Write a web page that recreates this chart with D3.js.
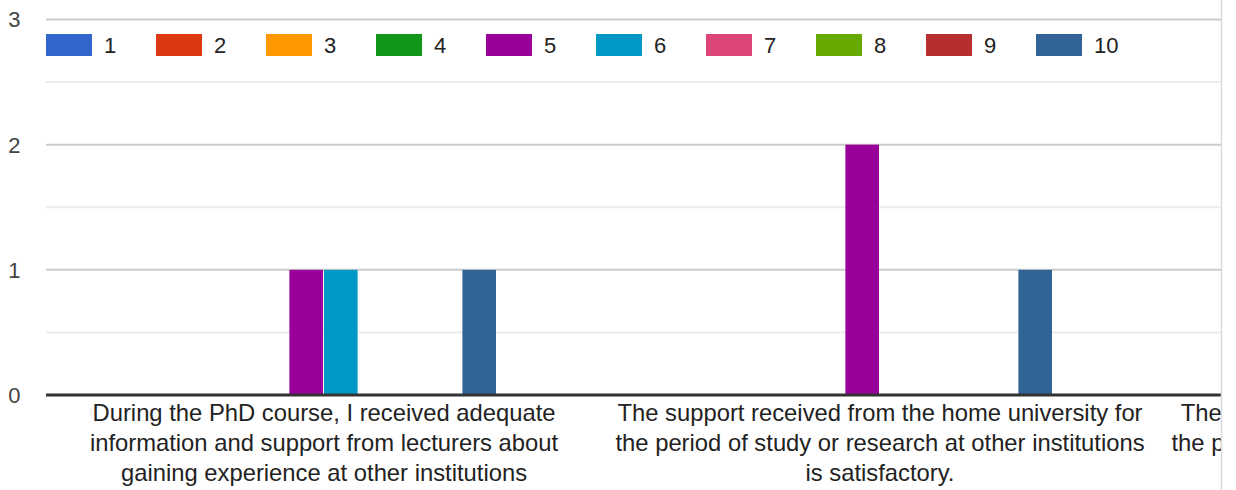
<!DOCTYPE html>
<html><head><meta charset="utf-8">
<script src="https://cdn.jsdelivr.net/npm/d3@7"></script>
<style>
html,body{margin:0;padding:0;background:#fff;}
svg{display:block;font-family:"Liberation Sans",Arial,sans-serif;}
</style></head>
<body><svg id="c" width="1236" height="490"></svg>
<script>
const categories = [
  "During the PhD course, I received adequate\ninformation and support from lecturers about\ngaining experience at other institutions",
  "The support received from the home university for\nthe period of study or research at other institutions\nis satisfactory.",
  "The support received from the host university for\nthe period of study or research at other institutions\nis satisfactory."
];
const seriesNames = ["1","2","3","4","5","6","7","8","9","10"];
const seriesColors = ["#3366cc","#dc3912","#ff9900","#109618","#990099","#0099c6","#dd4477","#66aa00","#b82e2e","#316395"];
// values[category][series]
const values = [
  [0,0,0,0,1,1,0,0,0,1],
  [0,0,0,0,2,0,0,0,0,1],
  [0,0,0,0,0,0,0,0,0,0]
];
const yTicks = [0,1,2,3];
const yMinor = [0.5,1.5,2.5];

const svg = d3.select("#c");
const left = 46, bandW = 556, clipRight = 1221;
const x0 = d3.scaleBand().domain(d3.range(categories.length)).range([left, left + bandW*categories.length]).paddingInner(0).paddingOuter(0);
const innerW = 346;
const x1 = d3.scaleBand().domain(d3.range(seriesNames.length)).range([0, innerW]);
const y = d3.scaleLinear().domain([0,3]).range([395, 19.5]);

svg.append("defs").append("clipPath").attr("id","clip")
  .append("rect").attr("x",0).attr("y",0).attr("width",clipRight).attr("height",490);

const g = svg.append("g").attr("clip-path","url(#clip)");

// minor gridlines
g.selectAll("line.minor").data(yMinor).join("line")
  .attr("x1",left).attr("x2",clipRight).attr("y1",d=>y(d)).attr("y2",d=>y(d))
  .attr("stroke","#ebebeb").attr("stroke-width",2);
// major gridlines
g.selectAll("line.major").data(yTicks.filter(d=>d>0)).join("line")
  .attr("x1",left).attr("x2",clipRight).attr("y1",d=>y(d)).attr("y2",d=>y(d))
  .attr("stroke","#cccccc").attr("stroke-width",2);

// y labels
svg.selectAll("text.yl").data(yTicks).join("text")
  .attr("x",20.5).attr("y",d=>y(d)).attr("dy","0.36em")
  .attr("text-anchor","end").attr("font-size",22).attr("fill","#444")
  .text(d=>d);

// bars
const groups = g.selectAll("g.cat").data(values).join("g")
  .attr("transform",(d,i)=>`translate(${x0(i) + (bandW-innerW)/2},0)`);
groups.selectAll("rect").data(d=>d.map((v,j)=>({v,j}))).join("rect")
  .attr("x",d=>x1(d.j)).attr("width",x1.bandwidth()-1)
  .attr("y",d=>y(d.v)).attr("height",d=>y(0)-y(d.v))
  .attr("fill",d=>seriesColors[d.j]);

// baseline
g.append("line").attr("x1",left).attr("x2",clipRight).attr("y1",y(0)).attr("y2",y(0))
  .attr("stroke","#333").attr("stroke-width",3);

// category labels
const labs = g.selectAll("text.cat").data(categories).join("text")
  .attr("text-anchor","middle").attr("font-size",23.8).attr("fill","#222")
  .attr("transform",(d,i)=>`translate(${x0(i)+bandW/2},421)`);
labs.selectAll("tspan").data(d=>d.split("\n")).join("tspan")
  .attr("x",0).attr("y",(d,i)=>i*30).text(d=>d);

// legend
const leg = svg.append("g").selectAll("g").data(seriesNames).join("g")
  .attr("transform",(d,i)=>`translate(${46+i*110},34)`);
leg.append("rect").attr("width",46).attr("height",22).attr("fill",(d,i)=>seriesColors[i]);
leg.append("text").attr("x",58).attr("y",11).attr("dy","0.36em")
  .attr("font-size",22).attr("fill","#222").text(d=>d);

// right border
svg.append("line").attr("x1",clipRight+0.5).attr("x2",clipRight+0.5).attr("y1",0).attr("y2",490)
  .attr("stroke","#dadada").attr("stroke-width",1.5);
</script></body></html>
